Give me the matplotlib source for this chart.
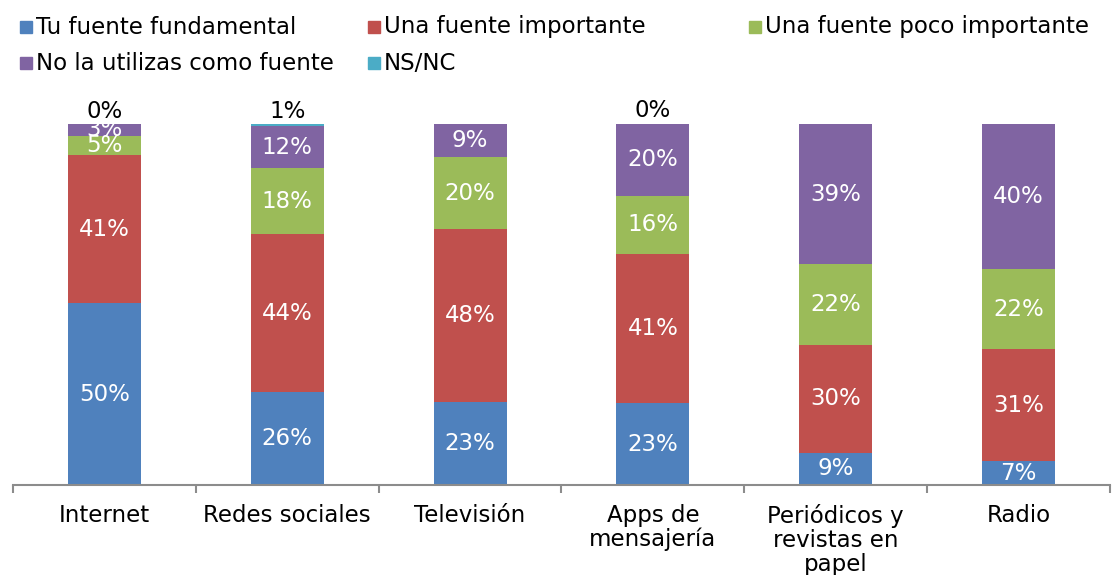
import matplotlib
matplotlib.use('Agg')

import matplotlib.pyplot as plt
import numpy as np
from matplotlib.patches import Rectangle

plt.rcParams['font.family'] = ['DejaVu Sans']

categories = ['Internet', 'Redes sociales', 'Televisión', 'Apps de\nmensajería',
              'Periódicos y\nrevistas en\npapel', 'Radio']
series = ['Tu fuente fundamental', 'Una fuente importante', 'Una fuente poco importante',
          'No la utilizas como fuente', 'NS/NC']

fundamental = [50.4, 25.8, 23.0, 22.7, 8.9, 6.6]
importante = [41.0, 43.6, 47.9, 41.3, 29.9, 31.0]
poco_importante = [5.3, 18.4, 19.9, 16.1, 22.4, 22.2]
no_utilizas = [3.3, 11.6, 9.1, 19.9, 38.8, 40.2]
ns_nc = [0.0, 0.6, 0.0, 0.3, 0.0, 0.0]
ns_nc_shown = [True, True, False, True, False, False]

colors = ['#4F81BD', '#C0504D', '#9BBB59', '#8064A2', '#4BACC6']
FS = 16.5

W, H = 1118, 575
fig = plt.figure(figsize=(W / 100, H / 100), dpi=100)
ax = fig.add_axes([13 / W, 90 / H, 1097 / W, 361 / H])

x = np.arange(len(categories))
data = [fundamental, importante, poco_importante, no_utilizas, ns_nc]
bottom = np.zeros(len(categories))
for i, vals in enumerate(data):
    vals = np.array(vals)
    ax.bar(x, vals, width=0.4, bottom=bottom, color=colors[i], label=series[i])
    if i < 4:
        # white labels in the middle of each segment
        for xi, b, v in zip(x, bottom, vals):
            ax.text(xi, b + v / 2, f'{v:.0f}%', ha='center', va='center',
                    color='white', fontsize=FS)
    else:
        for xi, b, v, show in zip(x, bottom, vals, ns_nc_shown):
            if show:
                ax.text(xi, b + v + 0.2, f'{v:.0f}%', ha='center', va='bottom',
                        color='black', fontsize=FS)
    bottom += vals

ax.set_xlim(-0.5, len(categories) - 0.5)
ax.set_ylim(0, 100)
for s in ['top', 'right', 'left']:
    ax.spines[s].set_visible(False)
ax.spines['bottom'].set_color('#8c8c8c')
ax.spines['bottom'].set_linewidth(1.5)
ax.set_yticks([])

# ticks at the category boundaries, labels at the centres
ax.set_xticks(np.arange(len(categories) + 1) - 0.5)
ax.set_xticklabels([])
ax.set_xticks(x, minor=True)
ax.set_xticklabels(categories, minor=True, fontsize=FS, linespacing=1.03)
ax.tick_params(axis='x', which='major', length=6, width=1.5, color='#8c8c8c')
ax.tick_params(axis='x', which='minor', length=0, pad=14)

# legend drawn by hand, rows filled left to right like Excel
leg_x = [20, 368, 749, 20, 368]
leg_y = [27, 27, 27, 63, 63]
for c, s, lx, ly in zip(colors, series, leg_x, leg_y):
    fig.patches.append(Rectangle((lx / W, (H - ly - 6) / H), 12 / W, 12 / H,
                                 color=c, transform=fig.transFigure, figure=fig))
    fig.text((lx + 16) / W, (H - ly) / H, s, ha='left', va='center', fontsize=FS)

fig.savefig('out.png', dpi=100)
